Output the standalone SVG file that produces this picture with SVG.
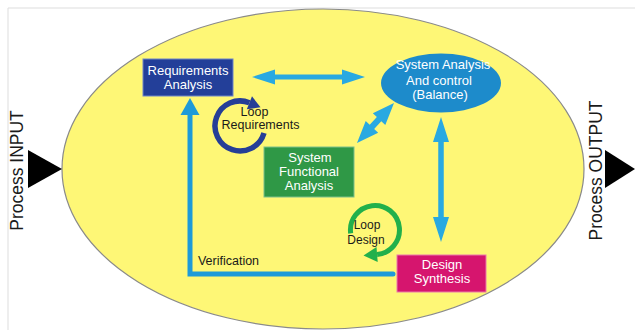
<svg xmlns="http://www.w3.org/2000/svg" width="635" height="330" viewBox="0 0 635 330">
<style>
text{font-family:"Liberation Sans",Arial,sans-serif;text-anchor:middle}
.w{fill:#ffffff;font-size:13px}
.k{fill:#1a1a1a;font-size:12.5px}
.side{fill:#1a1a1a;font-size:17.5px}
.arr{fill:#29a9e1}
</style>
<rect width="635" height="330" fill="#ffffff"/>
<path d="M8,330 L8,8 L635,8" fill="none" stroke="#dddddd" stroke-width="1"/>
<ellipse cx="323" cy="169" rx="261" ry="160" fill="#fef776" stroke="#8a8a8a" stroke-width="1.2"/>

<g id="process-input">
<polygon points="28,150 62,169 28,188" fill="#000"/>
<text class="side" transform="translate(23,170.5) rotate(-90)">Process INPUT</text>
</g>
<g id="process-output">
<polygon points="605,150 635,169 605,188" fill="#000"/>
<text class="side" transform="translate(602,170.5) rotate(-90)">Process OUTPUT</text>
</g>

<g id="connectors">
<polygon class="arr" points="252,77 275,69.5 275,74.5 342,74.5 342,69.5 365,77 342,84.5 342,79.5 275,79.5 275,84.5"/>
<polygon class="arr" points="441,117 449,142 443.75,142 443.75,217 449,217 441,242 433,217 438.25,217 438.25,142 433,142"/>
<polygon class="arr" transform="translate(375.5,123) rotate(-47.2)" points="-27.25,0 -5.25,-8.5 -5.25,-3 5.25,-3 5.25,-8.5 27.25,0 5.25,8.5 5.25,3 -5.25,3 -5.25,8.5"/>
<path d="M393,274 L190,274 L190,113" fill="none" stroke="#1e9ad8" stroke-width="5" stroke-linecap="round"/>
<polygon points="190,98 199.5,115 180.5,115" fill="#1e9ad8"/>
<text class="k" x="228.5" y="265">Verification</text>
</g>

<g id="loop-requirements">
<path d="M264,132.9 A25,25 0 1 1 249.4,102.8" fill="none" stroke="#253e97" stroke-width="5.5"/>
<polygon points="252,96.3 260.5,107.3 246.8,109.3" fill="#253e97"/>
<text class="k" x="254.5" y="116">Loop</text>
<text class="k" x="260.5" y="128.5">Requirements</text>
</g>

<g id="loop-design">
<path d="M350.7,233.4 A24.5,24.5 0 1 1 377.1,254.4" fill="none" stroke="#22b04b" stroke-width="5"/>
<polygon points="377.7,262 363.5,255.5 376.5,247" fill="#22b04b"/>
<text class="k" x="367" y="229" style="font-size:12px">Loop</text>
<text class="k" x="366" y="243.5" style="font-size:12px">Design</text>
</g>

<g id="requirements-analysis">
<rect x="143" y="59" width="90" height="37" fill="#233f99" stroke="#6f86c8" stroke-width="1"/>
<text class="w" x="188" y="75">Requirements</text>
<text class="w" x="188" y="88.5">Analysis</text>
</g>

<g id="system-analysis">
<ellipse cx="441" cy="83" rx="60" ry="29.5" fill="#1d8bcb"/>
<text class="w" x="443" y="69">System Analysis</text>
<text class="w" x="439" y="84.5">And control</text>
<text class="w" x="440" y="99">(Balance)</text>
</g>

<g id="system-functional-analysis">
<rect x="264" y="147" width="90" height="50" fill="#2f9846" stroke="#7cc08a" stroke-width="1"/>
<text class="w" x="310" y="162">System</text>
<text class="w" x="309" y="176">Functional</text>
<text class="w" x="309" y="190">Analysis</text>
</g>

<g id="design-synthesis">
<rect x="397" y="255" width="89" height="37" fill="#d6156e" stroke="#ea7aa9" stroke-width="1"/>
<text class="w" x="442" y="269">Design</text>
<text class="w" x="442" y="283">Synthesis</text>
</g>
</svg>
